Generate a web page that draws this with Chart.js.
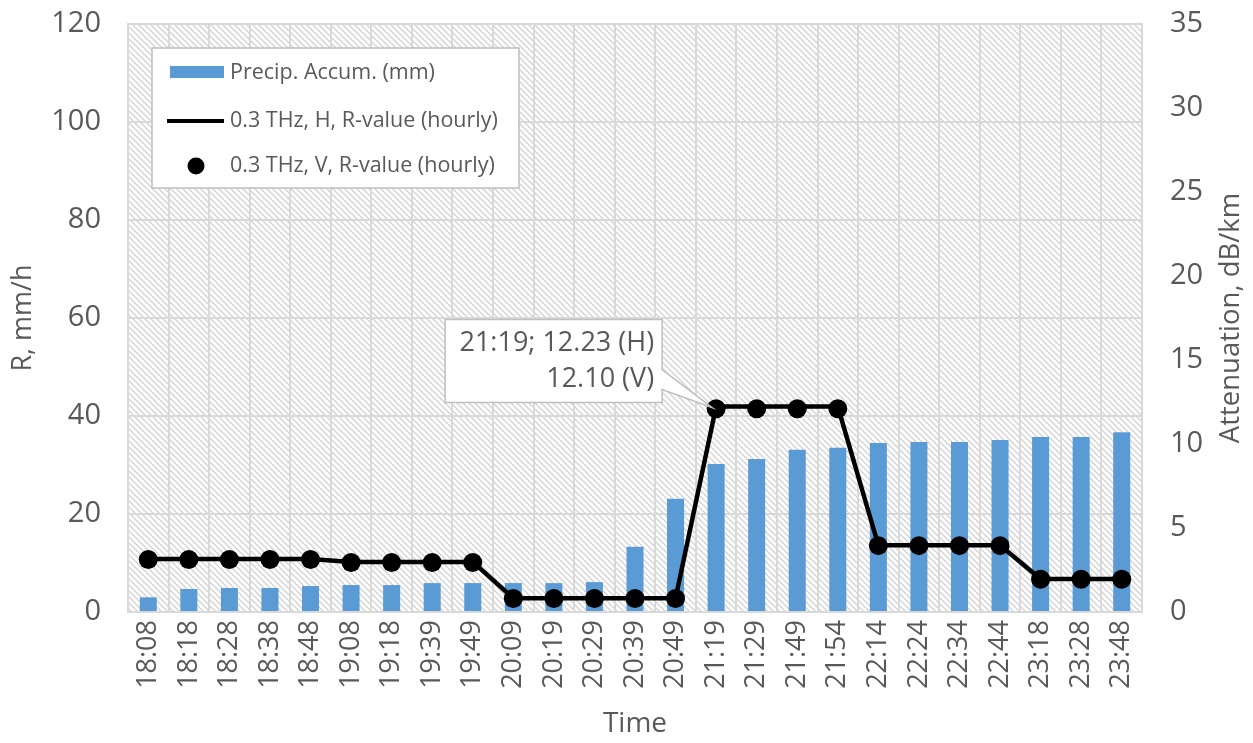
<!DOCTYPE html>
<html>
<head>
<meta charset="utf-8">
<script src="https://cdn.jsdelivr.net/npm/chart.js@4/dist/chart.umd.min.js"></script>
<style>
  html, body { margin: 0; padding: 0; background: #fff; }
  #wrap { width: 1253px; height: 743px; }
</style>
</head>
<body>
<div id="wrap"><canvas id="chart" width="1253" height="743"></canvas></div>
<script>
const TIMES = ['18:08', '18:18', '18:28', '18:38', '18:48', '19:08', '19:18', '19:39', '19:49', '20:09',
  '20:19', '20:29', '20:39', '20:49', '21:19', '21:29', '21:49', '21:54', '22:14', '22:24',
  '22:34', '22:44', '23:18', '23:28', '23:48'];

// Precip. accumulation, mm (left axis)
const PRECIP = [3.0, 4.7, 4.9, 4.9, 5.3, 5.5, 5.5, 5.9, 5.9, 5.9,
  5.9, 6.1, 13.3, 23.1, 30.2, 31.2, 33.1, 33.5, 34.5, 34.7,
  34.7, 35.1, 35.7, 35.7, 36.7];

// attenuation, dB/km (right axis)
const ATTEN_H = [3.15, 3.15, 3.15, 3.15, 3.15, 2.98, 2.98, 2.98, 2.98, 0.82,
  0.82, 0.82, 0.82, 0.82, 12.23, 12.23, 12.23, 12.23, 3.97, 3.97,
  3.97, 3.97, 1.96, 1.96, 1.96];
const ATTEN_V = [3.12, 3.12, 3.12, 3.12, 3.12, 2.95, 2.95, 2.95, 2.95, 0.8,
  0.8, 0.8, 0.8, 0.8, 12.10, 12.10, 12.10, 12.10, 3.95, 3.95,
  3.95, 3.95, 1.95, 1.95, 1.95];

const LABEL_PRECIP = 'Precip. Accum. (mm)';
const LABEL_H = '0.3 THz, H, R-value (hourly)';
const LABEL_V = '0.3 THz, V, R-value (hourly)';
const NOTE_INDEX = 14;
const NOTE_LINES = ['21:19; 12.23 (H)', '12.10 (V)'];

const FONT = `'Open Sans', 'Noto Sans', sans-serif`;
const TEXT = `#595959`;
const GRID = `#d9d9d9`;
const BLUE = `#5b9bd5`;

const makeHatch = (ctx) => {
  const tile = document.createElement(`canvas`);
  tile.width = 6;
  tile.height = 6;
  const t = tile.getContext(`2d`);
  t.fillStyle = `#ffffff`;
  t.fillRect(0, 0, 6, 6);
  t.strokeStyle = `#d2d2d2`;
  t.lineWidth = 1.3;
  t.beginPath();
  t.moveTo(-1, -1); t.lineTo(7, 7);
  t.moveTo(-4, 2); t.lineTo(2, 8);
  t.moveTo(2, -4); t.lineTo(8, 2);
  t.stroke();
  return ctx.createPattern(tile, `repeat`);
};

const hatchPlugin = {
  id: `hatch`,
  beforeDraw(chart) {
    const {ctx, chartArea: a} = chart;
    ctx.save();
    ctx.fillStyle = makeHatch(ctx);
    ctx.fillRect(a.left, a.top, a.right - a.left, a.bottom - a.top);
    ctx.restore();
  }
};

const extrasPlugin = {
  id: `extras`,
  afterDraw(chart) {
    const {ctx, chartArea: a, scales} = chart;
    ctx.save();

    // right axis title, reading bottom to top
    ctx.fillStyle = TEXT;
    ctx.font = `27.5px ${FONT}`;
    ctx.textAlign = `center`;
    ctx.textBaseline = `middle`;
    ctx.translate(1231, (a.top + a.bottom) / 2);
    ctx.rotate(-Math.PI / 2);
    ctx.fillText(`Attenuation, dB/km`, 0, 0);
    ctx.setTransform(1, 0, 0, 1, 0, 0);

    // legend
    const lx = 152, ly = 48;
    ctx.fillStyle = `#ffffff`;
    ctx.fillRect(lx, ly, 367, 140);
    ctx.strokeStyle = `#bfbfbf`;
    ctx.lineWidth = 1.5;
    ctx.strokeRect(lx, ly, 367, 140);
    ctx.fillStyle = BLUE;
    ctx.fillRect(lx + 18, ly + 18, 54, 12);
    ctx.strokeStyle = `#000`;
    ctx.lineWidth = 4;
    ctx.beginPath();
    ctx.moveTo(lx + 15, ly + 73);
    ctx.lineTo(lx + 72, ly + 73);
    ctx.stroke();
    ctx.fillStyle = `#000`;
    ctx.beginPath();
    ctx.arc(lx + 44, ly + 118, 8.5, 0, Math.PI * 2);
    ctx.fill();
    ctx.fillStyle = TEXT;
    ctx.font = `21.5px ${FONT}`;
    ctx.textAlign = `left`;
    ctx.fillText(LABEL_PRECIP, lx + 78, ly + 25);
    ctx.fillText(LABEL_H, lx + 78, ly + 73);
    ctx.fillText(LABEL_V, lx + 78, ly + 118);

    // callout at 21:19
    const px = scales.x.getPixelForValue(NOTE_INDEX);
    const py = scales.y1.getPixelForValue(ATTEN_H[NOTE_INDEX]);
    const bx = px - 271, by = py - 87, bw = 217, bh = 83;
    ctx.fillStyle = `#ffffff`;
    ctx.strokeStyle = `#bfbfbf`;
    ctx.lineWidth = 1.5;
    ctx.beginPath();
    ctx.moveTo(bx, by);
    ctx.lineTo(bx + bw, by);
    ctx.lineTo(bx + bw, by + 50);
    ctx.lineTo(px - 4, py + 1);
    ctx.lineTo(bx + bw, by + 70);
    ctx.lineTo(bx + bw, by + bh);
    ctx.lineTo(bx, by + bh);
    ctx.closePath();
    ctx.fill();
    ctx.stroke();
    ctx.fillStyle = TEXT;
    ctx.font = `27px ${FONT}`;
    ctx.textAlign = `right`;
    ctx.fillText(NOTE_LINES[0], bx + bw - 8, by + 24);
    ctx.fillText(NOTE_LINES[1], bx + bw - 8, by + 60);

    ctx.restore();
  }
};

const fitVertical = (width) => (s) => {
  s.width = width;
  s.paddingTop = 0;
  s.paddingBottom = 0;
};

const ctx = document.getElementById(`chart`).getContext(`2d`);

new Chart(ctx, {
  plugins: [hatchPlugin, extrasPlugin],
  data: {
    labels: TIMES,
    datasets: [
      {
        type: `line`,
        label: LABEL_V,
        data: ATTEN_V,
        yAxisID: `y1`,
        showLine: false,
        pointRadius: 9.5,
        pointBackgroundColor: `#000`,
        pointBorderWidth: 0,
        order: 1,
      },
      {
        type: `line`,
        label: LABEL_H,
        data: ATTEN_H,
        yAxisID: `y1`,
        borderColor: `#000`,
        borderWidth: 4.5,
        pointRadius: 0,
        tension: 0,
        order: 2,
      },
      {
        type: `bar`,
        label: LABEL_PRECIP,
        data: PRECIP,
        yAxisID: `y`,
        backgroundColor: BLUE,
        barPercentage: 0.42,
        categoryPercentage: 1,
        order: 3,
      },
    ]
  },
  options: {
    responsive: false,
    animation: false,
    layout: {padding: {top: 24, left: 0, right: 0, bottom: 0}},
    plugins: {
      legend: {display: false},
      tooltip: {enabled: false},
    },
    scales: {
      x: {
        offset: true,
        grid: {color: GRID, lineWidth: 2, offset: true, drawTicks: false},
        border: {color: GRID, width: 2},
        ticks: {
          color: TEXT,
          font: {family: FONT, size: 27},
          minRotation: 90,
          maxRotation: 90,
          padding: 8,
          autoSkip: false,
        },
        title: {display: true, text: `Time`, color: TEXT, font: {family: FONT, size: 28}, padding: {top: 0, bottom: 2}},
        afterFit(s) {
          s.height = 131;
          s.paddingLeft = 0;
          s.paddingRight = 0;
        },
      },
      y: {
        position: `left`,
        min: 0,
        max: 120,
        grid: {color: GRID, lineWidth: 2, drawTicks: false},
        border: {color: GRID, width: 2},
        ticks: {stepSize: 20, color: TEXT, font: {family: FONT, size: 29}, padding: 27},
        title: {display: true, text: `R, mm/h`, color: TEXT, font: {family: FONT, size: 27}, padding: {top: 7, bottom: 0}},
        afterFit: fitVertical(128),
      },
      y1: {
        position: `right`,
        min: 0,
        max: 35,
        grid: {display: false, drawTicks: false},
        border: {color: GRID, width: 2},
        ticks: {stepSize: 5, color: TEXT, font: {family: FONT, size: 29}, padding: 28},
        afterFit: fitVertical(111),
      },
    }
  }
});
</script>
</body>
</html>
